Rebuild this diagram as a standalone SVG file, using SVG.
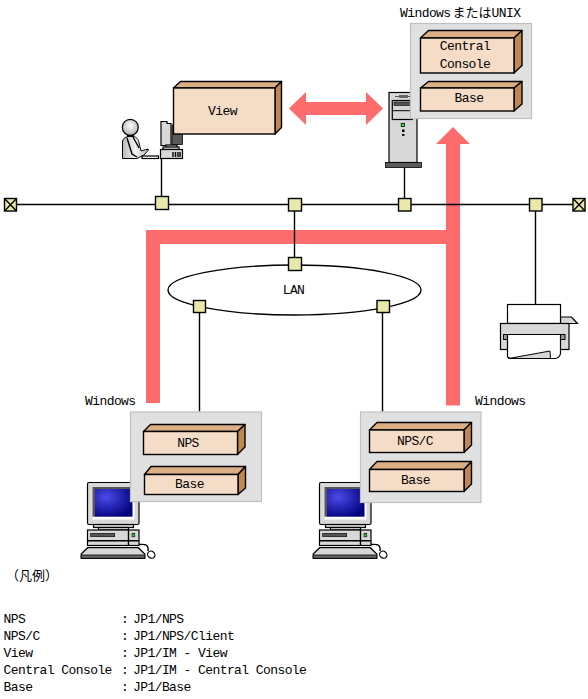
<svg xmlns="http://www.w3.org/2000/svg" xmlns:xlink="http://www.w3.org/1999/xlink" width="588" height="699" viewBox="0 0 588 699">
<style>
text{font-family:"Liberation Mono","Noto Sans CJK JP",monospace;font-size:13px;letter-spacing:-.58px;fill:#000}
.m{text-anchor:middle}
.cjk{font-family:"Noto Sans CJK JP","Liberation Mono",monospace;letter-spacing:0;font-weight:400}
.ln{fill:none;stroke:#000;stroke-width:1.4}
.red{fill:#fd6c6c}
.sq{fill:#e8e8aa;stroke:#000;stroke-width:1.4}
.panel{fill:#e0e0e0;stroke:#c0c0c0;stroke-width:1.2}
.fr{fill:#f5dcc6;stroke:#000;stroke-width:1.4}
.tp{fill:#dcae84;stroke:#000;stroke-width:1.4;stroke-linejoin:round}
.rt{fill:#c08850;stroke:#000;stroke-width:1.4;stroke-linejoin:round}
.g{fill:#d8d8d8;stroke:#000;stroke-width:1.2}
.w{fill:#fff;stroke:#000;stroke-width:1.2}
.dk{fill:#5a5a5a;stroke:#000;stroke-width:.8}
</style>
<defs>
<radialGradient id="scr" cx=".3" cy=".3" r=".8"><stop offset="0" stop-color="#4a4ae8"/><stop offset="1" stop-color="#00007a"/></radialGradient>
<radialGradient id="hd" cx=".5" cy=".4" r=".6"><stop offset="0" stop-color="#fff"/><stop offset="1" stop-color="#b0b0b0"/></radialGradient>
<linearGradient id="bd" x1="0" x2="1"><stop offset="0" stop-color="#bbb"/><stop offset=".5" stop-color="#f2f2f2"/><stop offset="1" stop-color="#bbb"/></linearGradient>
<g id="pc">
<rect class="g" x="87.5" y="482.5" width="51.500" height="42" rx="1.5"/>
<rect x="92.5" y="487" width="42" height="32.5" fill="#fff"/>
<path d="M92.5 487H132.5V489H95V516.7H92.5Z" fill="#555"/>
<rect x="95" y="489" width="37.5" height="27.7" fill="url(#scr)"/>
<rect class="g" x="93.5" y="524.5" width="40" height="3"/>
<rect class="g" x="98.5" y="527.5" width="30" height="2.5"/>
<rect class="g" x="87.5" y="530" width="51.500" height="15.5"/>
<path class="ln" d="M87.5 540.7H139M128.5 530V545.5" stroke-width="1"/>
<rect x="90.7" y="533.3" width="24" height="3.4" fill="#555" stroke="#000" stroke-width=".6"/>
<rect x="132" y="533.3" width="2.8" height="3.5" fill="#3c3" stroke="#000" stroke-width=".6"/>
<path class="g" d="M87.7 547.7H138.3L144.8 554V558.3H81.2V554Z"/>
<path d="M81.2 555H144.8V558.3H81.2Z" fill="#666" stroke="#000" stroke-width=".8"/>
<path class="ln" d="M139 544.5C144 544 149 544 148 551" stroke-width="1"/>
<ellipse class="w" cx="151.3" cy="554.7" rx="3.8" ry="3.4" transform="rotate(35 151.3 554.7)"/>
</g>
</defs>

<g id="connectors">
<path id="arrow-up-red" class="red" d="M146 403V230H446V144H436L453 127L470 144H460V405.5H446V244H160V403Z"/>
<path id="arrow-double-red" class="red" d="M289 108.5L306 92V102H366V92L383 108.5L366 125V115H306V125Z"/>
<path class="ln" d="M15 204.5H573M161.5 158V196M294.5 211V258M404.5 168V198M535.5 211V304.5M199.5 312V411.5M382.5 312V411.5"/>
</g>

<g id="lan">
<ellipse class="ln" cx="294.5" cy="290" rx="126.5" ry="25"/>
<text class="m" x="293.5" y="294">LAN</text>
</g>

<g id="hubs">
<rect class="sq" x="155.5" y="196.5" width="13" height="13"/>
<rect class="sq" x="288.5" y="198.5" width="13" height="12.5"/>
<rect class="sq" x="398.5" y="198.5" width="12.5" height="12.5"/>
<rect class="sq" x="529.5" y="198.5" width="12.5" height="12.5"/>
<rect class="sq" x="288.5" y="257.5" width="13" height="13"/>
<rect class="sq" x="193.5" y="300.5" width="12" height="12"/>
<rect class="sq" x="377" y="300.5" width="12.5" height="12"/>
</g>
<g id="term-left"><rect class="sq" x="4.5" y="198.5" width="12" height="12.5"/><path class="ln" d="M4.5 198.5L16.500 211M16.500 198.5L4.5 211" stroke-width="1"/></g>
<g id="term-right"><rect class="sq" x="573" y="198.5" width="12" height="12.5"/><path class="ln" d="M573 198.5L585 211M585 198.5L573 211" stroke-width="1"/></g>

<g id="user">
<path d="M122.5 158.5V142C122.5 139 125 137 128 136.5H133C137 137 138 139 139 143L141 151L148 149L148.5 150L144 155L137 158.5Z" fill="url(#bd)" stroke="#000" stroke-width="1"/>
<path class="ln" d="M127 138L132 154L137 157M133 137L139 148" stroke-width=".9"/>
<rect x="127" y="134.5" width="7" height="2" fill="#000"/>
<circle cx="130.3" cy="127.3" r="8" fill="url(#hd)" stroke="#000" stroke-width="1.2"/>
<rect class="w" x="142" y="156" width="16.5" height="2.5"/>
<path class="g" d="M161 121.5H167V123.5H171V145.5H161Z"/>
<path class="dk" d="M172 125V144.5H182.5V125Z"/>
<rect class="g" x="166" y="145" width="11" height="2.5"/>
<rect class="g" x="163" y="147" width="16" height="2.5"/>
<rect class="g" x="160.5" y="149.5" width="22" height="9"/>
<path class="ln" d="M173 152V157M175.5 152V157M178 152V157M180 152V157" stroke-width="1"/>
</g>

<g id="view">
<path class="tp" d="M173.5 88L180.5 81.5H281.5L275 88Z"/>
<path class="rt" d="M275 88L281.5 81.5V127.5L275 134Z"/>
<rect class="fr" x="173.5" y="88" width="101.5" height="46"/>
<text class="m" x="222.5" y="115">View</text>
</g>

<g id="server">
<rect class="g" x="389" y="92.5" width="28" height="70"/>
<path d="M395 96.5H410" stroke="#555" stroke-width="1"/>
<rect x="399" y="95" width="9" height="3" fill="#666"/>
<rect class="g" x="392.3" y="100.5" width="20" height="19" fill="#e0e0e0"/>
<rect x="394" y="102" width="18" height="3.5" fill="#555" stroke="#000" stroke-width=".6"/>
<path d="M392 110.7H412" stroke="#000" stroke-width="1"/>
<rect x="401.2" y="123.3" width="3.2" height="3.2" fill="#3e3" stroke="#000" stroke-width=".8"/>
<rect x="402" y="129.5" width="2.5" height="2.5" fill="#000"/>
<rect x="402" y="134" width="2.5" height="1.8" fill="#000"/>
<rect class="dk" x="385.5" y="162.5" width="36" height="5"/>
</g>

<g id="panel-top">
<text x="400" y="17">Windows<tspan class="cjk" dx="2">または</tspan>UNIX</text>
<rect class="panel" x="410.5" y="23.5" width="121" height="95"/>
<g id="central-console">
<path class="tp" d="M420.5 38L428.5 30.5H522L514 38Z"/>
<path class="rt" d="M514 38L522 30.5V65.5L514 73Z"/>
<rect class="fr" x="420.5" y="38" width="93.5" height="35"/>
<text class="m" x="465" y="50">Central</text>
<text class="m" x="465" y="67.5">Console</text>
</g>
<g id="base-top">
<path class="tp" d="M420.5 88L428.5 81.5H522L514 88Z"/>
<path class="rt" d="M514 88L522 81.5V104L514 111Z"/>
<rect class="fr" x="420.5" y="88" width="93.5" height="23"/>
<text class="m" x="469" y="102">Base</text>
</g>
</g>

<g id="printer">
<path class="g" d="M560.5 317H571.5L577.5 323.5H560.5Z" stroke-width="1"/>
<rect class="w" x="507.5" y="304.5" width="53" height="19"/>
<rect class="g" x="500.5" y="323.5" width="68.5" height="26"/>
<rect x="503.5" y="334.5" width="61.500" height="5" fill="#999" stroke="#000" stroke-width="1"/>
<path class="w" d="M507.5 334.5H560.5V353C560.500 356 558 358.500 555 358.500H510L507.5 357Z"/>
<path d="M508.500 358.500L550 351L550.500 358.500Z" fill="#d8d8d8" stroke="#000" stroke-width="1"/>
</g>

<g id="pc-left"><use href="#pc" xlink:href="#pc"/></g>
<g id="pc-right"><use href="#pc" xlink:href="#pc" x="232"/></g>

<g id="panel-left">
<text x="85" y="405">Windows</text>
<rect class="panel" x="130.500" y="412" width="131" height="89.500"/>
<g id="nps-left">
<path class="tp" d="M143.500 431.500L150.500 424.500H245L237.500 431.500Z"/>
<path class="rt" d="M237.500 431.500L245 424.500V447L237.500 454.500Z"/>
<rect class="fr" x="143.500" y="431.500" width="94" height="23"/>
<text class="m" x="188" y="447">NPS</text>
</g>
<g id="base-left">
<path class="tp" d="M144.500 474.500L151 466.500H245.500L238 474.500Z"/>
<path class="rt" d="M238 474.500L245.500 466.500V488L238 494.500Z"/>
<rect class="fr" x="144.500" y="474.500" width="93.500" height="20"/>
<text class="m" x="189.500" y="488">Base</text>
</g>
</g>

<g id="panel-right">
<text x="475" y="405">Windows</text>
<rect class="panel" x="360.500" y="412" width="120.500" height="90.500"/>
<g id="nps-c">
<path class="tp" d="M369.500 430L377 422.500H471.500L464 430Z"/>
<path class="rt" d="M464 430L471.500 422.500V445L464 452.500Z"/>
<rect class="fr" x="369.500" y="430" width="94.500" height="22.500"/>
<text class="m" x="415" y="444.500">NPS/C</text>
</g>
<g id="base-right">
<path class="tp" d="M369.500 469.500L377 461.500H471.500L464 469.500Z"/>
<path class="rt" d="M464 469.500L471.500 461.500V484L464 491.500Z"/>
<rect class="fr" x="369.500" y="469.500" width="94.500" height="22"/>
<text class="m" x="415.500" y="484">Base</text>
</g>
</g>

<g id="legend">
<text class="cjk" x="6" y="580">（凡例）</text>
<text x="3.500" y="623">NPS</text><text x="121" y="623">:</text><text x="133" y="623">JP1/NPS</text>
<text x="3.500" y="640">NPS/C</text><text x="121" y="640">:</text><text x="133" y="640">JP1/NPS/Client</text>
<text x="3.500" y="657">View</text><text x="121" y="657">:</text><text x="133" y="657">JP1/IM - View</text>
<text x="3.500" y="674">Central Console</text><text x="121" y="674">:</text><text x="133" y="674">JP1/IM - Central Console</text>
<text x="3.500" y="691">Base</text><text x="121" y="691">:</text><text x="133" y="691">JP1/Base</text>
</g>
</svg>
